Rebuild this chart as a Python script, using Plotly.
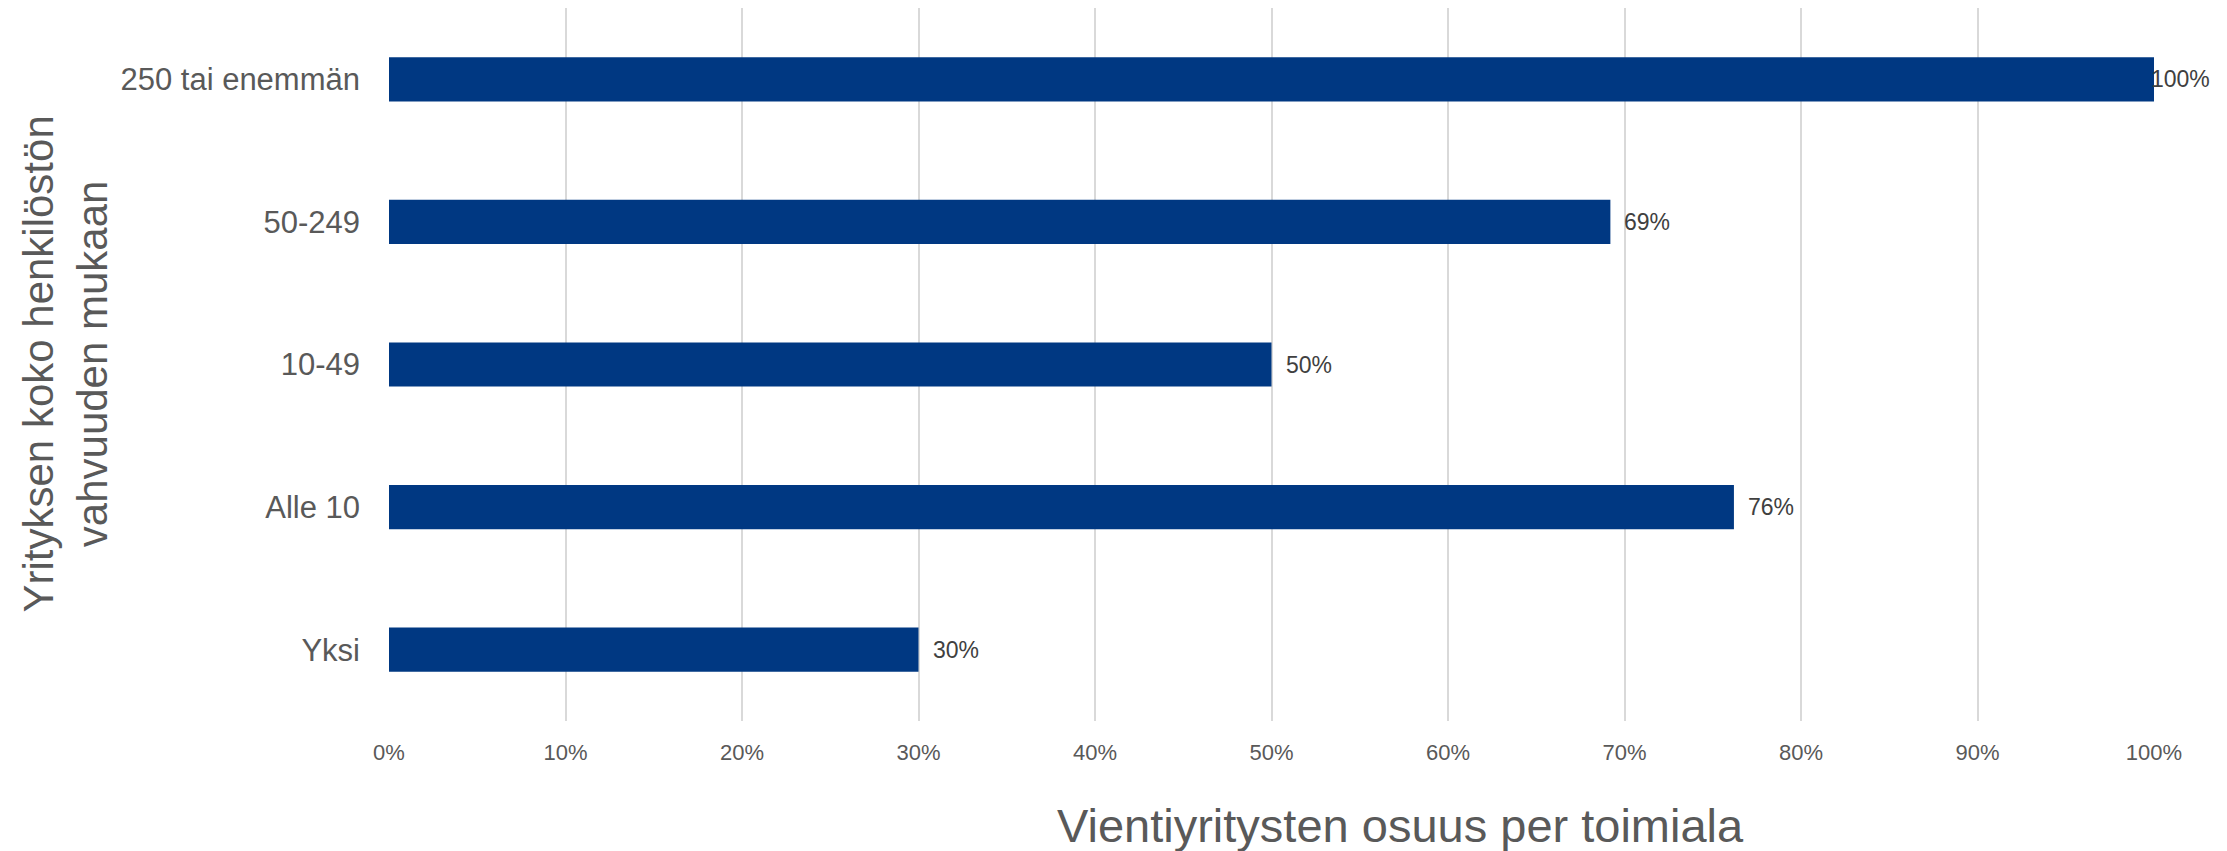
import plotly.graph_objects as go

categories = ["Yksi", "Alle 10", "10-49", "50-249", "250 tai enemmän"]
values = [0.30, 0.762, 0.50, 0.692, 1.00]
labels = ["30%", "76%", "50%", "69%", "100%"]
tick_vals = [0, 0.1, 0.2, 0.3, 0.4, 0.5, 0.6, 0.7, 0.8, 0.9, 1.0]
tick_text = ["0%", "10%", "20%", "30%", "40%", "50%", "60%", "70%", "80%", "90%", "100%"]
x_title = "Vientiyritysten osuus per toimiala"
y_title = "Yrityksen koko henkilöstön<br>vahvuuden mukaan"

W, H = 2227, 851
ml, mr, mt, mb = 381, 81, 0, 138
pw = W - ml - mr
ph = H - mt - mb
OFF = 7  # page offset

fig = go.Figure(go.Bar(
    y=categories, x=values, orientation="h",
    width=0.31,
    marker=dict(color="#003882", line=dict(width=0)),
    hoverinfo="x+y",
))

ann = []
for c, v, t in zip(categories, values, labels):
    ann.append(dict(
        x=v, y=c, xref="x", yref="y", text=t, showarrow=False,
        xanchor="left", yanchor="middle", xshift=(12 if v < 0.99 else -5),
        font=dict(family="Liberation Sans, Arial", size=23, color="#404040"),
    ))

ann.append(dict(
    text=y_title, textangle=-90, showarrow=False,
    xref="paper", yref="paper",
    x=(64 - (ml + OFF)) / pw, y=0.5,
    xanchor="center", yanchor="middle",
    font=dict(size=42, color="#595959"),
))
ann.append(dict(
    text=x_title, showarrow=False,
    xref="paper", yref="paper",
    x=(1399 - (ml + OFF)) / pw, y=-(824 - (ph + mt + OFF)) / ph,
    xanchor="center", yanchor="middle",
    font=dict(size=47, color="#595959"),
))

fig.update_layout(
    width=W, height=H,
    margin=dict(l=ml, r=mr, t=mt, b=mb, autoexpand=False),
    plot_bgcolor="white", paper_bgcolor="white",
    showlegend=False,
    font=dict(family="Liberation Sans, Arial"),
    xaxis=dict(
        range=[0, 1.0], tickvals=tick_vals, ticktext=tick_text,
        showgrid=True, gridcolor="#d9d9d9", gridwidth=2,
        zeroline=False, showline=False,
        ticks="outside", ticklen=12, tickcolor="rgba(0,0,0,0)",
        tickfont=dict(size=22, color="#595959"),
        automargin=False,
    ),
    yaxis=dict(
        range=[-0.5, 4.5],
        categoryorder="array", categoryarray=categories,
        showgrid=False, zeroline=False, showline=False,
        ticks="", ticklabelstandoff=28,
        tickfont=dict(size=31, color="#595959"),
        automargin=False,
    ),
    annotations=ann,
)

fig.write_html("out.html")
